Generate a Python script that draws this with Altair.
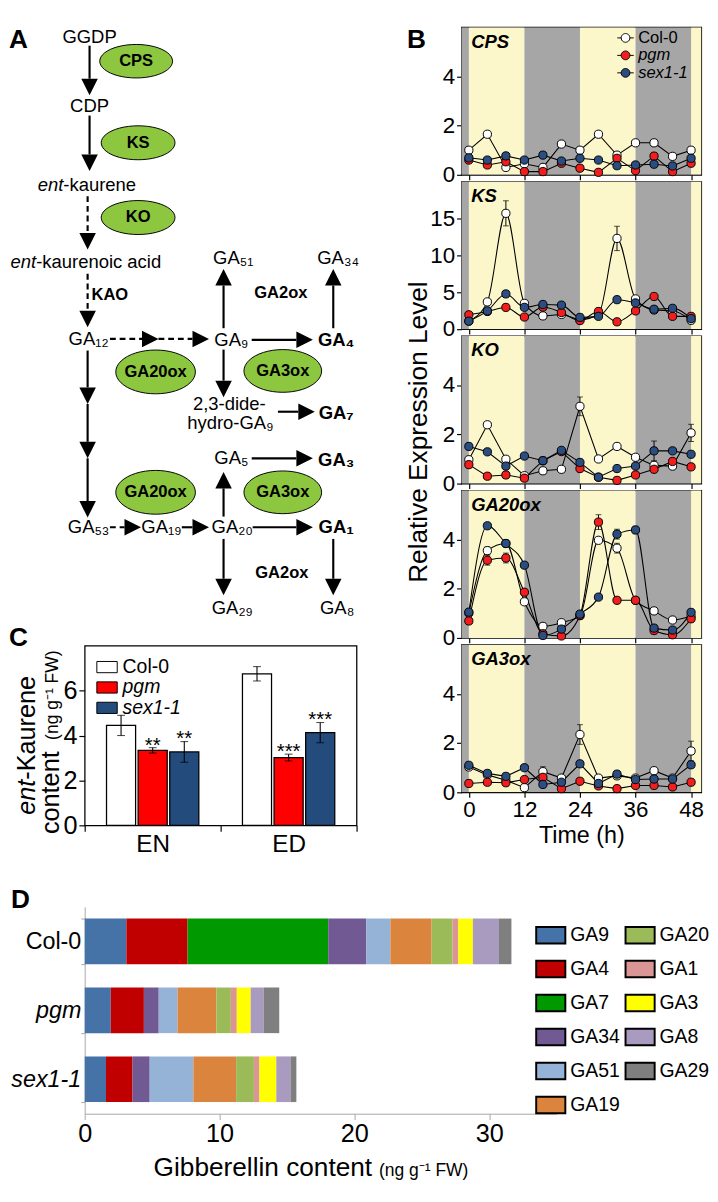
import math
import altair as alt
import pandas as pd

FONT = "Liberation Sans"

# =====================================================================
# Panel A : GA biosynthesis pathway (diagram node/arrow tables)
# =====================================================================
node_labels = ["GGDP", "CDP", "GA₁₂", "GA₉", "GA₅₁", "GA₃₄", "2,3-dide-",
               "hydro-GA₉", "GA₅", "GA₅₃", "GA₁₉", "GA₂₀", "GA₂₉", "GA₈"]
node_x = [91, 91, 90, 237, 239, 347, 235, 236, 237, 90, 165, 238, 238, 346]
node_y = [18, 89, 329, 330, 246, 246, 396, 416, 452, 523, 523, 523, 606, 606]

active_labels = ["GA₄", "GA₇", "GA₃", "GA₁"]
active_x = [345, 345, 345, 345]
active_y = [330, 405, 454, 523]

ent_prefix = ["ent", "ent"]
ent_suffix = ["-kaurene", "-kaurenoic acid"]
ent_x = [64, 36]
ent_y = [171, 250]

enzymes = ["CPS", "KS", "KO", "GA20ox", "GA3ox", "GA20ox", "GA3ox"]
enzyme_x = [139, 141, 141, 159, 290, 159, 290]
enzyme_y = [43, 127, 204, 363, 362, 487, 487]
enzyme_w = [75, 76, 76, 82, 80, 82, 80]
enzyme_round = [0, 0, 0, 1, 1, 1, 1]

side_enzymes = ["GA2ox", "GA2ox"]
side_x = [288, 289]
side_y = [282, 570]
kao_label = ["KAO"]
kao_x = [93]
kao_y = [284]

arrow_x1 = [91, 91, 89, 89, 112, 162, 258, 229, 342, 229, 285, 89, 89, 89, 258, 229, 112, 186, 259, 229, 342]
arrow_y1 = [27, 99, 182, 262, 329, 329, 330, 318, 318, 340, 404, 341, 396, 452, 452, 512, 523, 523, 523, 535, 535]
arrow_x2 = [91, 91, 89, 89, 162, 214, 321, 229, 342, 229, 323, 89, 89, 89, 321, 229, 144, 214, 321, 229, 342]
arrow_y2 = [78, 156, 237, 317, 329, 329, 330, 257, 257, 389, 404, 396, 452, 513, 452, 466, 523, 523, 523, 593, 593]
arrow_dashed = [0, 0, 1, 1, 1, 1, 0, 0, 0, 0, 0, 0, 0, 0, 0, 0, 1, 0, 0, 0, 0]

# =====================================================================
# Panel B : expression time courses
# =====================================================================
hours = [0, 4, 8, 12, 16, 20, 24, 28, 32, 36, 40, 44, 48]
genotypes = ["Col-0", "pgm", "sex1-1"]

cps_col0 = [1.0, 1.65, 0.3, 0.45, 0.3, 1.25, 1.0, 1.65, 0.8, 1.3, 1.3, 0.75, 1.0]
cps_pgm = [0.6, 0.4, 0.53, 0.13, 0.13, 0.47, 0.27, 0.1, 0.67, 0.17, 0.76, 0.13, 0.47]
cps_sex = [0.69, 0.6, 0.77, 0.6, 0.8, 0.56, 0.67, 0.6, 0.37, 0.4, 0.43, 0.36, 0.67]

ks_col0 = [1.1, 3.7, 15.7, 3.5, 1.8, 2.0, 1.3, 2.0, 12.3, 4.1, 2.6, 2.5, 1.2]
ks_pgm = [1.95, 2.4, 2.95, 1.65, 3.0, 2.26, 1.17, 2.4, 1.0, 2.48, 4.43, 1.74, 1.74]
ks_sex = [1.09, 2.48, 4.78, 2.96, 3.35, 3.26, 1.6, 1.74, 4.0, 3.56, 2.7, 2.83, 1.43]

ko_col0 = [0.97, 2.39, 0.99, 0.32, 0.52, 0.58, 3.14, 1.0, 1.51, 1.07, 0.74, 0.71, 2.06]
ko_pgm = [0.77, 0.3, 0.35, 0.22, 0.93, 1.3, 0.61, 0.26, 0.13, 0.35, 0.58, 0.9, 0.68]
ko_sex = [1.51, 1.29, 0.71, 1.12, 0.93, 1.35, 0.86, 0.26, 0.61, 0.71, 1.33, 1.33, 1.19]

ga20_col0 = [1.01, 3.55, 3.84, 1.47, 0.47, 0.62, 0.91, 3.97, 3.65, 1.53, 1.1, 0.73, 0.88]
ga20_pgm = [0.69, 3.16, 3.25, 1.86, 0.17, 0.08, 0.91, 4.71, 1.53, 1.53, 0.3, 0.13, 0.78]
ga20_sex = [1.05, 4.56, 3.84, 2.96, 0.1, 0.36, 0.97, 1.66, 4.22, 4.39, 0.4, 0.32, 1.04]

ga3_col0 = [1.03, 0.71, 0.49, 0.19, 0.84, 0.58, 2.35, 0.58, 0.67, 0.58, 0.88, 0.58, 1.68]
ga3_pgm = [0.36, 0.41, 0.39, 0.52, 0.61, 0.15, 0.45, 0.26, 0.15, 0.28, 0.28, 0.22, 0.41]
ga3_sex = [1.1, 0.77, 0.65, 1.0, 0.32, 0.41, 1.16, 0.36, 0.74, 0.52, 0.54, 0.54, 1.12]

err_gene = ["KS", "KS", "KO", "KO", "KO", "GA20ox", "GA20ox", "GA20ox", "GA20ox",
            "GA20ox", "GA20ox", "GA20ox", "GA3ox", "GA3ox", "GA3ox"]
err_geno = ["Col-0", "Col-0", "Col-0", "Col-0", "sex1-1", "Col-0", "pgm", "pgm", "pgm",
            "Col-0", "sex1-1", "sex1-1", "Col-0", "Col-0", "Col-0"]
err_hour = [8, 32, 24, 48, 40, 4, 4, 8, 28, 32, 32, 36, 24, 48, 16]
err_size = [1.7, 1.65, 0.38, 0.35, 0.4, 0.15, 0.2, 0.2, 0.3, 0.2, 0.2, 0.15, 0.4, 0.4, 0.2]

light_start = [0, 24, 48]
light_end = [12, 36, 60]
dark_start = [-12, 12, 36]
dark_end = [0, 24, 48]

# =====================================================================
# Panel C : ent-kaurene content
# =====================================================================
c_conditions = ["EN", "ED"]
c_col0 = [4.45, 6.75]
c_col0_err = [0.45, 0.32]
c_pgm = [3.34, 3.02]
c_pgm_err = [0.12, 0.15]
c_sex = [3.27, 4.13]
c_sex_err = [0.46, 0.45]
c_sig_pgm = ["**", "***"]
c_sig_sex = ["**", "***"]

# =====================================================================
# Panel D : gibberellin content
# =====================================================================
d_lines = ["Col-0", "pgm", "sex1-1"]
ga_stack = ["GA9", "GA4", "GA7", "GA34", "GA51", "GA19", "GA20", "GA1", "GA3", "GA8", "GA29"]
d_col0 = [3.09, 4.54, 10.43, 2.83, 1.78, 3.06, 1.55, 0.43, 1.08, 1.94, 0.92]
d_pgm = [1.93, 2.46, 0.0, 1.10, 1.40, 2.88, 1.07, 0.44, 1.03, 0.96, 1.16]
d_sex = [1.58, 1.97, 0.0, 1.27, 3.24, 3.17, 1.32, 0.41, 1.25, 1.05, 0.44]
# legend entries fill column by column: GA9..GA19 first column, GA20..GA29 second
legend_order = ["GA9", "GA4", "GA7", "GA34", "GA51", "GA19", "GA20", "GA1", "GA3", "GA8", "GA29"]
ga_colors = {"GA9": "#4572A7", "GA20": "#9BBB59", "GA4": "#C00000", "GA1": "#D99694",
             "GA7": "#009A00", "GA3": "#FFFF00", "GA34": "#715A93", "GA8": "#A99BBF",
             "GA51": "#95B3D7", "GA29": "#7F7F7F", "GA19": "#DB843D"}

# ---------------------------------------------------------------------
# helpers / shapes
# ---------------------------------------------------------------------
def ellipse_path(a, n=48):
    pts = []
    for k in range(n):
        t = 2 * math.pi * k / n
        pts.append(f"{math.cos(t):.4f},{a * math.sin(t):.4f}")
    return "M" + "L".join(pts) + "Z"

ELL_FLAT = ellipse_path(0.46)
ELL_ROUND = ellipse_path(0.55)
P_DOWN = "M-1,-1L1,-1L0,1Z"
P_UP = "M-1,1L1,1L0,-1Z"
P_RIGHT = "M-1,-1L1,0L-1,1Z"
HEAD = 17

def circle_pts(r, n=24):
    return "L".join(f"{r*math.cos(2*math.pi*k/n):.3f},{r*math.sin(2*math.pi*k/n):.3f}" for k in range(n))

B_SYMBOL = "M-1,0L-0.53,0M0.53,0L1,0M" + circle_pts(0.53) + "Z"
RECT_C = "M-1,-0.55L1,-0.55L1,0.55L-1,0.55Z"
RECT_D = "M-1,-0.567L1,-0.567L1,0.567L-1,0.567Z"

LIGHT = "#FCF7CB"
DARK = "#A6A6A6"
B_COLORS = ["#FFFFFF", "#F21D1D", "#2B4E82"]
C_COLORS = ["#FFFFFF", "#FF0000", "#234B7C"]
GRAY = "#A6A6A6"
ITALIC_EXPR = "datum.value === 'Col-0' ? 'normal' : 'italic'"

# =====================================================================
# Build panel A
# =====================================================================
AXS = alt.Scale(domain=[86, 375], nice=False, zero=False)
AYS = alt.Scale(domain=[8, 620], nice=False, zero=False, reverse=True)

def AX(f):
    return alt.X(f, type="quantitative", scale=AXS, axis=None)

def AY(f):
    return alt.Y(f, type="quantitative", scale=AYS, axis=None)

adf = pd.DataFrame({"x1": arrow_x1, "y1": arrow_y1, "xt": arrow_x2, "yt": arrow_y2,
                    "dashed": arrow_dashed})
sgn = lambda v: (v > 0) - (v < 0)
adf["ux"] = [sgn(b - a) for a, b in zip(adf.x1, adf.xt)]
adf["uy"] = [sgn(b - a) for a, b in zip(adf.y1, adf.yt)]
adf["xb"] = adf.xt - HEAD * adf.ux
adf["yb"] = adf.yt - HEAD * adf.uy
adf["xc"] = adf.xt - HEAD / 2 * adf.ux
adf["yc"] = adf.yt - HEAD / 2 * adf.uy
adf["dir"] = ["right" if ux > 0 else ("down" if uy > 0 else "up") for ux, uy in zip(adf.ux, adf.uy)]

rules_solid = alt.Chart(adf[adf.dashed == 0]).mark_rule(strokeWidth=2.2, color="black").encode(
    x=AX("x1"), y=AY("y1"), x2="xb:Q", y2="yb:Q")
rules_dash = alt.Chart(adf[adf.dashed == 1]).mark_rule(strokeWidth=2.2, color="black",
                                                       strokeDash=[6, 4]).encode(
    x=AX("x1"), y=AY("y1"), x2="xb:Q", y2="yb:Q")
heads = alt.Chart(adf).mark_point(filled=True, color="black", size=HEAD ** 2, opacity=1).encode(
    x=AX("xc"), y=AY("yc"),
    shape=alt.Shape("dir:N", scale=alt.Scale(domain=["down", "up", "right"],
                                             range=[P_DOWN, P_UP, P_RIGHT]), legend=None))

edf = pd.DataFrame({"t": enzymes, "x": enzyme_x, "y": enzyme_y,
                    "s": [w * w for w in enzyme_w], "round": enzyme_round})
ell_flat = alt.Chart(edf[edf["round"] == 0]).mark_point(
    shape=ELL_FLAT, fill="#8DC63F", stroke="black", strokeWidth=1, opacity=1, fillOpacity=1).encode(
    x=AX("x"), y=AY("y"), size=alt.Size("s:Q", scale=None))
ell_round = alt.Chart(edf[edf["round"] == 1]).mark_point(
    shape=ELL_ROUND, fill="#8DC63F", stroke="black", strokeWidth=1, opacity=1, fillOpacity=1).encode(
    x=AX("x"), y=AY("y"), size=alt.Size("s:Q", scale=None))


def a_text(labels, xs, ys, **kw):
    df = pd.DataFrame({"t": labels, "x": xs, "y": ys})
    return alt.Chart(df).mark_text(font=FONT, color="black", **kw).encode(
        x=AX("x"), y=AY("y"), text="t:N")


t_nodes = a_text(node_labels, node_x, node_y, fontSize=19, align="center", baseline="middle")
t_active = a_text(active_labels, active_x, active_y, fontSize=19, fontWeight="bold",
                  align="center", baseline="middle")
t_enz = a_text(enzymes, enzyme_x, enzyme_y, fontSize=17, fontWeight="bold",
               align="center", baseline="middle")
t_side = a_text(side_enzymes, side_x, side_y, fontSize=17, fontWeight="bold",
                align="center", baseline="middle")
t_kao = a_text(kao_label, kao_x, kao_y, fontSize=17, fontWeight="bold",
               align="left", baseline="middle")
t_ent1 = a_text(ent_prefix, ent_x, ent_y, fontSize=19, fontStyle="italic",
                align="right", baseline="middle")
t_ent2 = a_text(ent_suffix, ent_x, ent_y, fontSize=19, align="left", baseline="middle")
t_letter_a = a_text(["A"], [8], [8], fontSize=27, fontWeight="bold", align="left", baseline="top")

panel_a = alt.layer(rules_solid, rules_dash, heads, ell_flat, ell_round, t_nodes, t_active,
                    t_enz, t_side, t_kao, t_ent1, t_ent2, t_letter_a).properties(width=289, height=612)

# =====================================================================
# Build panel B
# =====================================================================
B_W, B_H = 247, 152

b_series = {
    "CPS": [cps_col0, cps_pgm, cps_sex],
    "KS": [ks_col0, ks_pgm, ks_sex],
    "KO": [ko_col0, ko_pgm, ko_sex],
    "GA20ox": [ga20_col0, ga20_pgm, ga20_sex],
    "GA3ox": [ga3_col0, ga3_pgm, ga3_sex],
}
b_gene_order = ["CPS", "KS", "KO", "GA20ox", "GA3ox"]
b_ymax = {"CPS": 6, "KS": 20, "KO": 6, "GA20ox": 6, "GA3ox": 6}
b_ticks = {"CPS": [0, 2, 4], "KS": [0, 5, 10, 15], "KO": [0, 2, 4], "GA20ox": [0, 2, 4], "GA3ox": [0, 2, 4]}
b_interp = {"CPS": "linear", "KS": "monotone", "KO": "linear", "GA20ox": "monotone", "GA3ox": "linear"}


def b_panel(gene, idx):
    last = idx == len(b_gene_order) - 1
    ymax = b_ymax[gene]
    xs = alt.Scale(domain=[-1.6, 50.2], nice=False, zero=False)
    ys = alt.Scale(domain=[0, ymax], nice=False, zero=True)
    xaxis = alt.Axis(values=[0, 12, 24, 36, 48], labels=last,
                     title=("Time (h)" if last else None), tickSize=5, tickWidth=1.2,
                     domain=False, grid=False, labelFontSize=23, titleFontSize=24,
                     labelPadding=2, titlePadding=3, titleFontWeight="normal")
    yaxis = alt.Axis(values=b_ticks[gene], title=None, tickSize=5, tickWidth=1.2, domain=False,
                     grid=False, labelFontSize=23, labelPadding=2)

    def X(f):
        return alt.X(f, type="quantitative", scale=xs, axis=xaxis)

    def Y(f):
        return alt.Y(f, type="quantitative", scale=ys, axis=yaxis)

    rows = []
    for g, vals in zip(genotypes, b_series[gene]):
        for h, v in zip(hours, vals):
            rows.append({"hour": h, "value": v, "genotype": g})
    df = pd.DataFrame(rows)

    shade_df = pd.DataFrame({"s": light_start + dark_start, "e": light_end + dark_end,
                             "k": ["light"] * 3 + ["dark"] * 3, "lo": 0, "hi": ymax})
    shade = alt.Chart(shade_df).mark_rect(clip=True).encode(
        x=X("s"), x2="e:Q", y=Y("lo"), y2="hi:Q",
        color=alt.Color("k:N", scale=alt.Scale(domain=["light", "dark"], range=[LIGHT, DARK]),
                        legend=None))

    layers = [shade]

    erows = []
    for gn, go, hr, sz in zip(err_gene, err_geno, err_hour, err_size):
        if gn == gene:
            v = b_series[gene][genotypes.index(go)][hours.index(hr)]
            erows.append({"hour": hr, "lo": v - sz, "hi": v + sz})
    if erows:
        edf_ = pd.DataFrame(erows)
        caps = pd.DataFrame({"hour": list(edf_.hour) * 2, "yv": list(edf_.lo) + list(edf_.hi)})
        layers.append(alt.Chart(edf_).mark_rule(color="black", strokeWidth=1).encode(
            x=X("hour"), y=Y("lo"), y2="hi:Q"))
        layers.append(alt.Chart(caps).mark_tick(color="black", thickness=1, size=6,
                                                orient="horizontal").encode(
            x=X("hour"), y=Y("yv")))

    layers.append(alt.Chart(df).mark_line(color="black", strokeWidth=1.1,
                                          interpolate=b_interp[gene]).encode(
        x=X("hour"), y=Y("value"), detail="genotype:N"))

    if idx == 0:
        leg = alt.Legend(title=None, orient="none", legendX=160, legendY=2,
                         symbolType=B_SYMBOL, symbolSize=289, symbolStrokeColor="black",
                         symbolStrokeWidth=1, labelFontSize=17, labelOffset=4, rowPadding=1,
                         padding=0, labelFont=FONT, labelColor="black",
                         labelFontStyle=alt.ExprRef(ITALIC_EXPR))
    else:
        leg = None
    layers.append(alt.Chart(df).mark_circle(size=72, stroke="black", strokeWidth=1,
                                            opacity=1).encode(
        x=X("hour"), y=Y("value"),
        fill=alt.Fill("genotype:N", scale=alt.Scale(domain=genotypes, range=B_COLORS),
                      legend=leg)))

    layers.append(alt.Chart(pd.DataFrame({"t": [gene]})).mark_text(
        font=FONT, fontSize=19, fontWeight="bold", fontStyle="italic", align="left",
        baseline="alphabetic", color="black").encode(
        text="t:N", x=alt.value(10), y=alt.value(21)))

    if idx == 0:
        layers.append(alt.Chart(pd.DataFrame({"t": ["B"]})).mark_text(
            font=FONT, fontSize=27, fontWeight="bold", align="left", baseline="top",
            color="black").encode(text="t:N", x=alt.value(-56), y=alt.value(0)))
    if gene == "KO":
        layers.append(alt.Chart(pd.DataFrame({"t": ["Relative Expression Level"]})).mark_text(
            font=FONT, fontSize=27, angle=270, align="center", baseline="alphabetic",
            color="black").encode(text="t:N", x=alt.value(-35), y=alt.value(99)))

    return alt.layer(*layers).properties(
        width=B_W, height=B_H, view=alt.ViewBackground(stroke="black", strokeWidth=1.3))


b_panels = [b_panel(g, i) for i, g in enumerate(b_gene_order)]
panel_b = alt.vconcat(*b_panels, spacing=7, bounds="flush").resolve_scale(
    x="independent", y="independent", fill="independent", color="independent")

# =====================================================================
# Build panel C
# =====================================================================
crow = []
for i, cond in enumerate(c_conditions):
    for g, m, e, s in zip(genotypes, [c_col0[i], c_pgm[i], c_sex[i]],
                          [c_col0_err[i], c_pgm_err[i], c_sex_err[i]],
                          ["", c_sig_pgm[i], c_sig_sex[i]]):
        crow.append({"cond": cond, "geno": g, "mean": m, "lo": m - e, "hi": m + e, "sig": s})
cdf = pd.DataFrame(crow)

cxs = alt.Scale(domain=c_conditions, paddingInner=0, paddingOuter=0)
cxaxis = alt.Axis(title=None, labelAngle=0, labelFontSize=25, tickBand="extent", tickSize=6,
                  tickWidth=1.2, labelPadding=1, domain=False)
cys = alt.Scale(domain=[0, 8], nice=False)
cyaxis = alt.Axis(values=[0, 2, 4, 6], title=None, tickSize=6, tickWidth=1.2, labelFontSize=26,
                  labelPadding=2, domain=False, grid=False)
cxo = alt.XOffset("geno:N", sort=genotypes,
                  scale=alt.Scale(domain=genotypes, paddingInner=0.08, paddingOuter=0.69))


def CX():
    return alt.X("cond:N", sort=c_conditions, scale=cxs, axis=cxaxis)


def CY(f):
    return alt.Y(f, type="quantitative", scale=cys, axis=cyaxis)


c_bars = alt.Chart(cdf).mark_bar(stroke="black", strokeWidth=1.3).encode(
    x=CX(), xOffset=cxo, y=CY("mean"),
    fill=alt.Fill("geno:N", scale=alt.Scale(domain=genotypes, range=C_COLORS),
                  legend=alt.Legend(title=None, orient="none", legendX=12, legendY=11,
                                    symbolType=RECT_C, symbolSize=441,
                                    symbolStrokeColor="black", symbolStrokeWidth=1,
                                    labelFontSize=20, labelOffset=5, rowPadding=-4, padding=0,
                                    labelFont=FONT, labelColor="black",
                                    labelFontStyle=alt.ExprRef(ITALIC_EXPR))))
c_err = alt.Chart(cdf).mark_rule(color="black", strokeWidth=1.1).encode(
    x=CX(), xOffset=cxo, y=CY("lo"), y2="hi:Q")
c_cap_hi = alt.Chart(cdf).mark_tick(color="black", thickness=1.1, size=8, orient="horizontal").encode(
    x=CX(), xOffset=cxo, y=CY("hi"))
c_cap_lo = alt.Chart(cdf).mark_tick(color="black", thickness=1.1, size=8, orient="horizontal").encode(
    x=CX(), xOffset=cxo, y=CY("lo"))
c_sig = alt.Chart(cdf[cdf.sig != ""]).mark_text(font=FONT, fontSize=21, baseline="alphabetic",
                                                 dy=4, color="black").encode(
    x=CX(), xOffset=cxo, y=CY("hi"), text="sig:N")

c_letter = alt.Chart(pd.DataFrame({"t": ["C"]})).mark_text(
    font=FONT, fontSize=27, fontWeight="bold", align="left", baseline="top", color="black").encode(
    text="t:N", x=alt.value(-78), y=alt.value(-21))
c_t1 = alt.Chart(pd.DataFrame({"t": ["ent"]})).mark_text(
    font=FONT, fontSize=26, fontStyle="italic", angle=270, align="right", baseline="alphabetic",
    color="black").encode(text="t:N", x=alt.value(-51), y=alt.value(138))
c_t2 = alt.Chart(pd.DataFrame({"t": ["-Kaurene"]})).mark_text(
    font=FONT, fontSize=26, angle=270, align="left", baseline="alphabetic",
    color="black").encode(text="t:N", x=alt.value(-51), y=alt.value(138))
c_t3 = alt.Chart(pd.DataFrame({"t": ["content"]})).mark_text(
    font=FONT, fontSize=26, angle=270, align="left", baseline="alphabetic",
    color="black").encode(text="t:N", x=alt.value(-26), y=alt.value(194))
c_t4 = alt.Chart(pd.DataFrame({"t": ["(ng g⁻¹ FW)"]})).mark_text(
    font=FONT, fontSize=18, angle=270, align="left", baseline="alphabetic",
    color="black").encode(text="t:N", x=alt.value(-27), y=alt.value(97))

panel_c = alt.layer(c_bars, c_err, c_cap_hi, c_cap_lo, c_sig, c_letter, c_t1, c_t2, c_t3,
                    c_t4).properties(width=280, height=185,
                                     view=alt.ViewBackground(stroke="black", strokeWidth=1.3))

# =====================================================================
# Build panel D
# =====================================================================
drow = []
for line, vals in zip(d_lines, [d_col0, d_pgm, d_sex]):
    for k, (ga, v) in enumerate(zip(ga_stack, vals)):
        drow.append({"line": line, "GA": ga, "value": v, "ord": k})
ddf = pd.DataFrame(drow)

d_bars = alt.Chart(ddf).mark_bar().encode(
    y=alt.Y("line:N", sort=d_lines,
            scale=alt.Scale(domain=d_lines, paddingInner=0.338, paddingOuter=0.169),
            axis=alt.Axis(title=None, labelFontSize=24, tickBand="extent", tickSize=4,
                          labelPadding=0, domainColor=GRAY, tickColor=GRAY,
                          labelFontStyle={"condition": {"test": "datum.value === 'Col-0'",
                                                        "value": "normal"},
                                          "value": "italic"})),
    x=alt.X("value:Q", stack="zero", scale=alt.Scale(domain=[0, 35], nice=False),
            axis=alt.Axis(values=[0, 10, 20, 30], title=None, grid=False, tickSize=6,
                          labelFontSize=26, labelPadding=2, domainColor=GRAY, tickColor=GRAY)),
    fill=alt.Fill("GA:N", scale=alt.Scale(domain=legend_order,
                                          range=[ga_colors[g] for g in legend_order]),
                  legend=alt.Legend(title=None, orient="none", legendX=464, legendY=13,
                                    columns=2, symbolType=RECT_D, symbolSize=900,
                                    symbolStrokeColor="black", symbolStrokeWidth=2,
                                    labelFontSize=20, labelOffset=4, rowPadding=6,
                                    columnPadding=1, padding=0, labelFont=FONT,
                                    labelColor="black")),
    order=alt.Order("ord:Q"))

d_letter = alt.Chart(pd.DataFrame({"t": ["D"]})).mark_text(
    font=FONT, fontSize=27, fontWeight="bold", align="left", baseline="top", color="black").encode(
    text="t:N", x=alt.value(-76), y=alt.value(-20))
d_t1 = alt.Chart(pd.DataFrame({"t": ["Gibberellin content"]})).mark_text(
    font=FONT, fontSize=27, align="right", baseline="alphabetic", color="black").encode(
    text="t:N", x=alt.value(296), y=alt.value(277))
d_t2 = alt.Chart(pd.DataFrame({"t": ["(ng g⁻¹ FW)"]})).mark_text(
    font=FONT, fontSize=18, align="left", baseline="alphabetic", color="black").encode(
    text="t:N", x=alt.value(303), y=alt.value(277))

panel_d = alt.layer(d_bars, d_letter, d_t1, d_t2).properties(width=486, height=213)

# =====================================================================
# Assemble
# =====================================================================
RES = dict(x="independent", y="independent", fill="independent", color="independent",
           shape="independent", size="independent")

left_col = alt.vconcat(panel_a, panel_c, spacing=2).resolve_scale(**RES)
top_row = alt.hconcat(left_col, panel_b, spacing=41).resolve_scale(**RES)
d_wrap = alt.hconcat(panel_d).resolve_scale(**RES)
chart = alt.vconcat(top_row, d_wrap, spacing=30).resolve_scale(**RES).properties(padding=0)

chart = chart.configure(font=FONT).configure_view(stroke=None).configure_axis(
    labelFont=FONT, titleFont=FONT, labelColor="black", titleColor="black",
    domainColor="black", tickColor="black", labelFlush=False, labelOverlap=False,
    grid=False).configure_legend(labelFont=FONT, titleFont=FONT).configure_text(font=FONT)

chart.save("out.html", embed_options={"renderer": "svg", "actions": False})
